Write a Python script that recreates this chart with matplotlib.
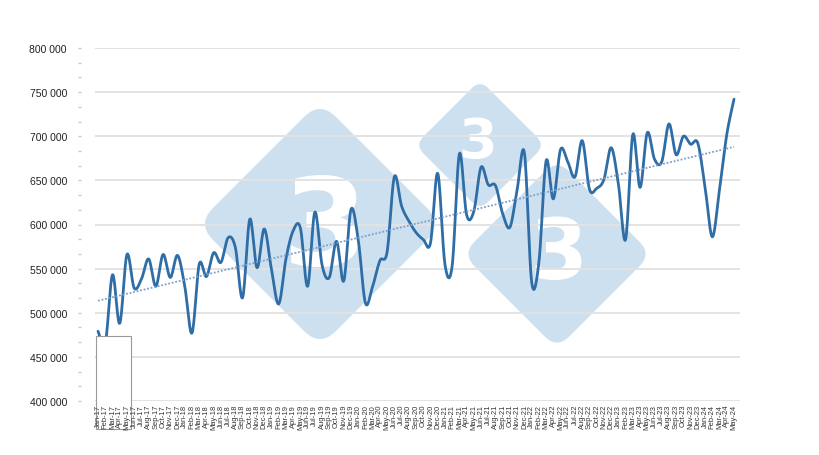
import numpy as np
import matplotlib.pyplot as plt
from matplotlib.patches import FancyBboxPatch, Rectangle
from matplotlib.transforms import Affine2D
from matplotlib.ticker import MultipleLocator, AutoMinorLocator, FuncFormatter

plt.rcParams['font.family'] = ['Liberation Sans', 'DejaVu Sans']

# Mois Jan-17 .. May-24
mois = ['Jan', 'Feb', 'Mar', 'Apr', 'May', 'Jun', 'Jul', 'Aug', 'Sep', 'Oct', 'Nov', 'Dec']
labels = [f'{m}-{a}' for a in range(17, 25) for m in mois][:89]

valeurs = [
    479000, 465000, 543000, 488000, 566000, 528000, 538000, 561000, 530000, 566000, 540000, 565000,  # 2017
    530000, 477000, 555000, 541000, 568000, 557000, 585000, 574000, 517000, 606000, 551000, 595000,  # 2018
    549000, 510000, 561000, 593000, 596000, 530000, 614000, 554000, 540000, 581000, 536000, 617000,  # 2019
    583000, 511000, 530000, 559000, 569000, 654000, 621000, 604000, 591000, 583000, 579000, 658000,  # 2020
    555000, 553000, 680000, 611000, 615000, 665000, 645000, 644000, 612000, 597000, 640000, 681000,  # 2021
    535000, 557000, 672000, 629000, 685000, 671000, 654000, 695000, 640000, 641000, 651000, 687000,  # 2022
    646000, 583000, 702000, 642000, 704000, 674000, 671000, 714000, 679000, 700000, 691000, 692000,  # 2023
    642000, 586000, 640000, 702000, 742000,  # 2024
]


def lisser(x, y, n=16):
    # courbe lissee type Catmull-Rom (comme la ligne lissee d'Excel)
    x = np.asarray(x, float)
    y = np.asarray(y, float)
    px = np.concatenate([[x[0]], x, [x[-1]]])
    py = np.concatenate([[y[0]], y, [y[-1]]])
    xs, ys = [], []
    t = np.linspace(0, 1, n, endpoint=False)
    for i in range(1, len(px) - 2):
        for p, out in ((px, xs), (py, ys)):
            p0, p1, p2, p3 = p[i - 1], p[i], p[i + 1], p[i + 2]
            out.extend(0.5 * (2 * p1 + (-p0 + p2) * t + (2 * p0 - 5 * p1 + 4 * p2 - p3) * t ** 2
                              + (-p0 + 3 * p1 - 3 * p2 + p3) * t ** 3))
    xs.append(x[-1])
    ys.append(y[-1])
    return np.array(xs), np.array(ys)


W, H = 820, 456
fig = plt.figure(figsize=(W / 100, H / 100), dpi=100)
ax = fig.add_axes([95 / W, 1 - 402 / H, 645 / W, 353 / H])
ax.set_facecolor('none')

# transformation en pixels (origine en haut a gauche)
pix = Affine2D().scale(1 / W, -1 / H).translate(0, 1) + fig.transFigure

# Filigrane (losanges bleus avec des "3")
bleu = '#cde0f0'
for cx, cy, cote in [(320, 225, 174), (480, 146, 92), (557, 255, 134)]:
    losange = FancyBboxPatch((cx - cote / 2, cy - cote / 2), cote, cote,
                             boxstyle=f'round,pad=0,rounding_size={cote * 0.13}',
                             facecolor=bleu, edgecolor='none', zorder=0.1, clip_on=False)
    losange.set_transform(Affine2D().rotate_deg_around(cx, cy, 45) + pix)
    ax.add_patch(losange)
for cx, cy, fs in [(325, 232, 88), (478, 143, 40), (558, 256, 60)]:
    ax.text(cx, cy, '3', transform=pix, fontsize=fs, fontweight='bold', color='white',
            ha='center', va='center', family='DejaVu Sans', zorder=0.2)

x = np.arange(len(valeurs))
xs, ys = lisser(x, valeurs)
ax.plot(xs, ys, color='#2f6da6', lw=2.0, zorder=2, solid_capstyle='round')

# tendance lineaire
a, b = np.polyfit(x, valeurs, 1)
ax.plot([x[0], x[-1]], [a * x[0] + b, a * x[-1] + b], color='#7f9fc8', lw=1.3,
        linestyle=(0, (1, 1)), zorder=2.1)

ax.set_xlim(-0.42, 88.83)
ax.set_ylim(400000, 800000)
ax.yaxis.set_major_locator(MultipleLocator(50000))
ax.yaxis.set_minor_locator(AutoMinorLocator(3))
ax.yaxis.set_major_formatter(FuncFormatter(lambda v, p: f'{int(v):,}'.replace(',', ' ')))
ax.grid(axis='y', color='#e3e3e3', lw=1.4)
ax.yaxis.set_zorder(0.5)
ax.xaxis.set_zorder(5)

for s in ax.spines.values():
    s.set_visible(False)
ax.spines['left'].set_position(('outward', 10))

ax.tick_params(axis='y', which='both', color='#c8c8c8', length=2.2, width=1,
               labelsize=7.5, labelcolor='#222222', pad=8)
ax.set_xticks(x)
ax.set_xticklabels(labels, rotation=90, fontsize=5.4, color='#333333')
ax.tick_params(axis='x', length=0, pad=2)

# cadre blanc en bas a gauche
cadre = Rectangle((96, 337), 35, 93, transform=pix, facecolor='white',
                  edgecolor='#9a9a9a', lw=0.8, zorder=3, clip_on=False)
ax.add_patch(cadre)

fig.savefig('out.png', dpi=100)
